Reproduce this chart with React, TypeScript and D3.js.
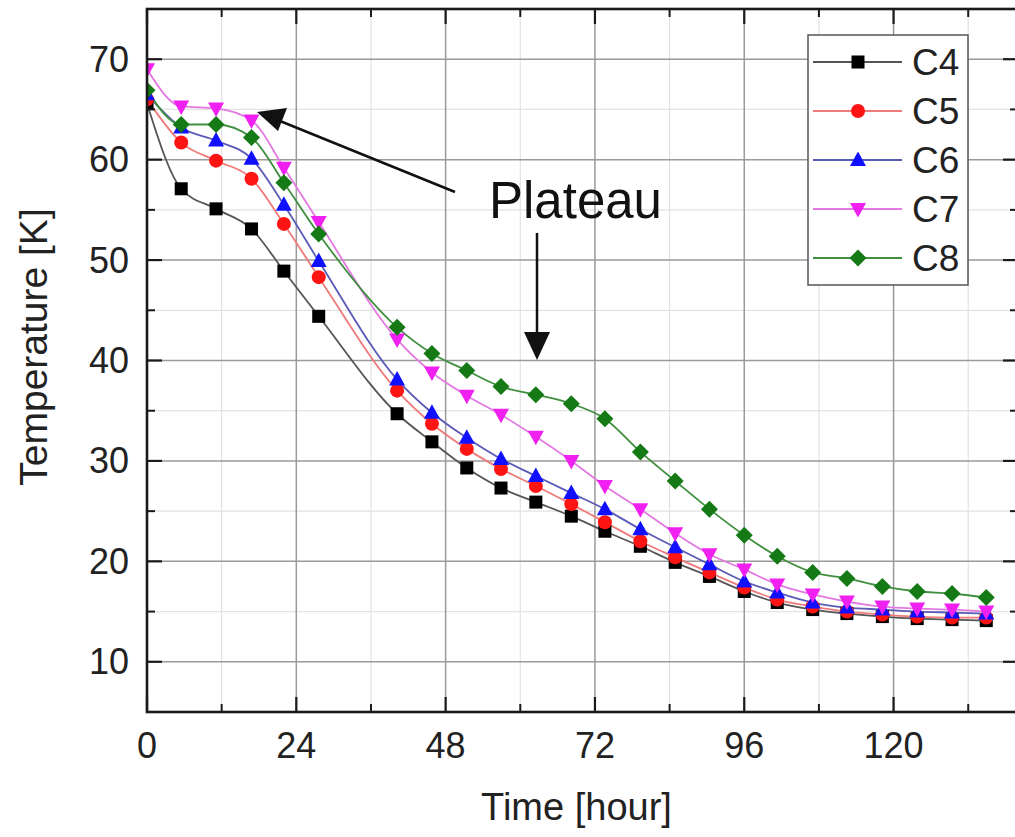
import React from "react";
import * as d3 from "d3";

const times = [0, 5.5, 11.1, 16.8, 22.0, 27.6, 40.2, 45.8, 51.4, 56.9, 62.5, 68.2, 73.6, 79.3, 84.9, 90.4, 96.0, 101.3, 107.0, 112.5, 118.2, 123.8, 129.4, 134.9];

const c4 = [65.6, 57.1, 55.1, 53.1, 48.9, 44.4, 34.7, 31.9, 29.3, 27.3, 25.9, 24.5, 23.0, 21.5, 19.9, 18.5, 17.0, 15.9, 15.2, 14.8, 14.5, 14.3, 14.2, 14.1];
const c5 = [66.0, 61.7, 59.9, 58.1, 53.6, 48.3, 37.0, 33.7, 31.2, 29.2, 27.5, 25.7, 23.9, 22.0, 20.4, 18.9, 17.4, 16.2, 15.5, 15.0, 14.7, 14.5, 14.4, 14.4];
const c6 = [66.5, 63.2, 61.9, 60.1, 55.5, 49.9, 38.1, 34.8, 32.3, 30.2, 28.5, 26.8, 25.2, 23.2, 21.4, 19.7, 18.0, 16.9, 15.9, 15.4, 15.2, 15.0, 14.9, 14.8];
const c7 = [69.0, 65.3, 65.1, 63.9, 59.2, 53.8, 42.1, 38.8, 36.5, 34.6, 32.4, 30.0, 27.5, 25.2, 22.8, 20.7, 19.2, 17.7, 16.7, 16.0, 15.5, 15.3, 15.2, 15.0];
const c8 = [66.9, 63.5, 63.5, 62.2, 57.7, 52.6, 43.3, 40.7, 39.0, 37.4, 36.6, 35.7, 34.2, 30.9, 28.0, 25.2, 22.6, 20.5, 18.9, 18.3, 17.5, 17.0, 16.8, 16.4];

const seriesNames = ["C4", "C5", "C6", "C7", "C8"];
const seriesValues = [c4, c5, c6, c7, c8];
const markerColors = ["#000000", "#ff1414", "#1010ff", "#f020f0", "#157a15"];
const lineColors = ["#555555", "#f07a7a", "#5a5ab8", "#e27ae2", "#3f8f3f"];
const markerShapes = ["square", "circle", "triangle", "triangleDown", "diamond"];

const xMajorTicks = [0, 24, 48, 72, 96, 120];
const xMinorTicks = [12, 36, 60, 84, 108, 132];
const yMajorTicks = [10, 20, 30, 40, 50, 60, 70];
const yMinorTicks = [5, 15, 25, 35, 45, 55, 65, 75];

const FONT = "'Liberation Sans', Arial, Helvetica, sans-serif";

function Marker({ shape, x, y, color }: { shape: string; x: number; y: number; color: string }) {
  if (shape === "square") return <rect x={x - 6.5} y={y - 6.5} width={13} height={13} fill={color} />;
  if (shape === "circle") return <circle cx={x} cy={y} r={7} fill={color} />;
  if (shape === "triangle")
    return <path d={`M${x},${y - 8.5} L${x + 8},${y + 6} L${x - 8},${y + 6} Z`} fill={color} />;
  if (shape === "triangleDown")
    return <path d={`M${x},${y + 8.5} L${x + 8},${y - 6} L${x - 8},${y - 6} Z`} fill={color} />;
  return <path d={`M${x},${y - 8.5} L${x + 8.5},${y} L${x},${y + 8.5} L${x - 8.5},${y} Z`} fill={color} />;
}

export default function App() {
  const W = 1015;
  const H = 837;
  const left = 147;
  const right = 1018;
  const top = 9;
  const bottom = 712;
  const x = d3.scaleLinear().domain([0, 140]).range([left, right]);
  const y = d3.scaleLinear().domain([5, 75]).range([bottom, top]);

  const line = d3
    .line<number>()
    .x((_, i) => x(times[i]))
    .y((d) => y(d))
    .curve(d3.curveMonotoneX);

  const legendX = 808;
  const legendY = 35;
  const legendRowY = (i: number) => 62 + i * 49;

  return (
    <svg
      width={W}
      height={H}
      style={{ position: "absolute", left: 0, top: 0, background: "#fff" }}
      fontFamily={FONT}
    >
      <defs>
        <clipPath id="plotClip">
          <rect x={left} y={top} width={right - left} height={bottom - top} />
        </clipPath>
      </defs>
      <rect x={0} y={0} width={W} height={H} fill="#fff" />
      {/* minor grid */}
      {xMinorTicks.map((t) => (
        <line key={"xm" + t} x1={x(t)} x2={x(t)} y1={top} y2={bottom} stroke="#e2e2e2" strokeWidth={1.2} />
      ))}
      {yMinorTicks.map((t) => (
        <line key={"ym" + t} x1={left} x2={right} y1={y(t)} y2={y(t)} stroke="#e2e2e2" strokeWidth={1.2} />
      ))}
      {/* major grid */}
      {xMajorTicks.map((t) => (
        <line key={"xg" + t} x1={x(t)} x2={x(t)} y1={top} y2={bottom} stroke="#9a9a9a" strokeWidth={1.5} />
      ))}
      {yMajorTicks.map((t) => (
        <line key={"yg" + t} x1={left} x2={right} y1={y(t)} y2={y(t)} stroke="#9a9a9a" strokeWidth={1.5} />
      ))}

      {/* series */}
      <g clipPath="url(#plotClip)">
        {seriesValues.map((vals, si) => (
          <path key={"l" + si} d={line(vals) || ""} fill="none" stroke={lineColors[si]} strokeWidth={1.8} />
        ))}
      </g>
      <g>
        {seriesValues.map((vals, si) => (
          <g key={"m" + si}>
            {vals.map((v, i) => (
              <Marker key={i} shape={markerShapes[si]} x={x(times[i])} y={y(v)} color={markerColors[si]} />
            ))}
          </g>
        ))}
      </g>
      {/* cover clipped-off markers left of axis */}
      <rect x={0} y={0} width={left - 1} height={H} fill="#fff" />

      {/* frame */}
      <rect x={left} y={top} width={right - left} height={bottom - top} fill="none" stroke="#1a1a1a" strokeWidth={2.6} />

      {/* ticks */}
      {xMajorTicks.map((t) => (
        <g key={"xt" + t}>
          <line x1={x(t)} x2={x(t)} y1={bottom} y2={bottom - 15} stroke="#1a1a1a" strokeWidth={2.2} />
          <line x1={x(t)} x2={x(t)} y1={top} y2={top + 15} stroke="#1a1a1a" strokeWidth={2.2} />
        </g>
      ))}
      {xMinorTicks.map((t) => (
        <g key={"xmt" + t}>
          <line x1={x(t)} x2={x(t)} y1={bottom} y2={bottom - 8} stroke="#1a1a1a" strokeWidth={2} />
          <line x1={x(t)} x2={x(t)} y1={top} y2={top + 8} stroke="#1a1a1a" strokeWidth={2} />
        </g>
      ))}
      {yMajorTicks.map((t) => (
        <g key={"yt" + t}>
          <line x1={left} x2={left + 15} y1={y(t)} y2={y(t)} stroke="#1a1a1a" strokeWidth={2.2} />
          <line x1={right} x2={right - 15} y1={y(t)} y2={y(t)} stroke="#1a1a1a" strokeWidth={2.2} />
        </g>
      ))}
      {yMinorTicks.map((t) => (
        <g key={"ymt" + t}>
          <line x1={left} x2={left + 8} y1={y(t)} y2={y(t)} stroke="#1a1a1a" strokeWidth={2} />
          <line x1={right} x2={right - 8} y1={y(t)} y2={y(t)} stroke="#1a1a1a" strokeWidth={2} />
        </g>
      ))}

      {/* tick labels */}
      {xMajorTicks.map((t) => (
        <text key={"xl" + t} x={x(t)} y={758} textAnchor="middle" fontSize={36} fill="#222">
          {t}
        </text>
      ))}
      {yMajorTicks.map((t) => (
        <text key={"yl" + t} x={129} y={y(t) + 12.5} textAnchor="end" fontSize={36} fill="#222">
          {t}
        </text>
      ))}

      {/* axis titles */}
      <text x={(left + right) / 2 - 6} y={820} textAnchor="middle" fontSize={38} fill="#222">
        Time [hour]
      </text>
      <text
        transform={`translate(47, 347) rotate(-90)`}
        textAnchor="middle"
        fontSize={39}
        fill="#222"
      >
        Temperature [K]
      </text>

      {/* legend */}
      <rect x={legendX} y={legendY} width={160} height={250} fill="#fff" stroke="#555" strokeWidth={1.5} />
      {seriesNames.map((n, i) => (
        <g key={"lg" + n}>
          <line x1={813} x2={902} y1={legendRowY(i)} y2={legendRowY(i)} stroke={lineColors[i]} strokeWidth={1.8} />
          <Marker shape={markerShapes[i]} x={858} y={legendRowY(i)} color={markerColors[i]} />
          <text x={912} y={legendRowY(i) + 13} fontSize={37} fill="#222">
            {n}
          </text>
        </g>
      ))}

      {/* annotation */}
      <text x={489} y={218} fontSize={51} fill="#111">
        Plateau
      </text>
      <line x1={455} y1={192} x2={280} y2={121} stroke="#111" strokeWidth={2.5} />
      <path d={`M257,112 L287,108 L278,131 Z`} fill="#111" />
      <line x1={537} y1={233} x2={537} y2={336} stroke="#111" strokeWidth={2.5} />
      <path d={`M537,360 L524,332 L550,332 Z`} fill="#111" />
    </svg>
  );
}
